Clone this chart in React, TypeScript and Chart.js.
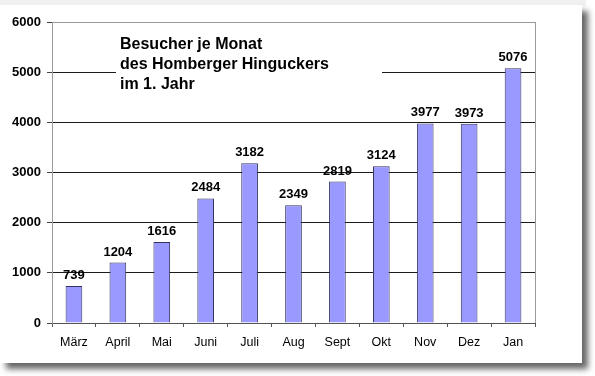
import React, { useEffect, useRef } from "react";
import { Chart, registerables } from "chart.js";

Chart.register(...registerables);

const months = ["März", "April", "Mai", "Juni", "Juli", "Aug", "Sept", "Okt", "Nov", "Dez", "Jan"];
const visitors = [739, 1204, 1616, 2484, 3182, 2349, 2819, 3124, 3977, 3973, 5076];
const titleLines = ["Besucher je Monat", "des Homberger Hinguckers", "im 1. Jahr"];
const yMax = 6000;
const yStep = 1000;

const FONT = "'Liberation Sans', Arial, sans-serif";

const overlayPlugin = {
  id: "overlay",
  beforeDatasetsDraw(chart: any) {
    const ctx = chart.ctx;
    const a = chart.chartArea;
    ctx.save();
    // title box
    ctx.fillStyle = "#ffffff";
    ctx.fillRect(116, 32, 266, 64);
    ctx.fillStyle = "#000000";
    ctx.font = `bold 16px ${FONT}`;
    ctx.textAlign = "left";
    ctx.textBaseline = "alphabetic";
    titleLines.forEach((t, i) => ctx.fillText(t, 120, 49 + i * 20));
    // right border
    ctx.strokeStyle = "#9a9a9a";
    ctx.lineWidth = 1;
    ctx.beginPath();
    ctx.moveTo(Math.round(a.right) + 0.5, a.top);
    ctx.lineTo(Math.round(a.right) + 0.5, a.bottom);
    ctx.stroke();
    ctx.restore();
  },
  afterDatasetsDraw(chart: any) {
    const ctx = chart.ctx;
    const meta = chart.getDatasetMeta(0);
    ctx.save();
    ctx.fillStyle = "#000000";
    ctx.font = `bold 13px ${FONT}`;
    ctx.textAlign = "center";
    ctx.textBaseline = "alphabetic";
    meta.data.forEach((bar: any, i: number) => {
      ctx.fillText(String(visitors[i]), bar.x, bar.y - 7);
    });
    ctx.restore();
  },
};

export default function App() {
  const ref = useRef<HTMLCanvasElement | null>(null);
  useEffect(() => {
    if (!ref.current) return;
    const chart = new Chart(ref.current, {
      type: "bar",
      data: {
        labels: months,
        datasets: [
          {
            data: visitors,
            backgroundColor: "#9999ff",
            borderColor: "#33335e",
            borderWidth: 1,
            barPercentage: 0.38,
            categoryPercentage: 1,
          },
        ],
      },
      options: {
        responsive: false,
        animation: false,
        devicePixelRatio: 1,
        layout: { padding: { left: 0, right: 60, top: 22, bottom: 0 } },
        plugins: { legend: { display: false }, tooltip: { enabled: false }, title: { display: false } },
        scales: {
          x: {
            grid: {
              display: true,
              drawOnChartArea: false,
              drawTicks: true,
              tickLength: 4,
              offset: true,
              color: "#555555",
            },
            border: { display: true, color: "#555555", width: 1 },
            ticks: {
              color: "#000000",
              font: { family: FONT, size: 12.5 },
              padding: 8,
              maxRotation: 0,
              autoSkip: false,
            },
            afterFit: (s: any) => {
              s.height = 53;
            },
          },
          y: {
            min: 0,
            max: yMax,
            ticks: {
              stepSize: yStep,
              color: "#000000",
              font: { family: FONT, size: 13, weight: "bold" },
              padding: 6,
              callback: (v: any) => String(v),
            },
            grid: {
              color: (c: any) => (c.tick && c.tick.value === yMax ? "#9a9a9a" : "#1a1a1a"),
              tickColor: "#444444",
              tickLength: 5,
              drawTicks: true,
            },
            border: { display: true, color: "#9a9a9a", width: 1 },
            afterFit: (s: any) => {
              s.width = 52;
            },
          },
        },
      },
      plugins: [overlayPlugin],
    });
    return () => chart.destroy();
  }, []);

  return (
    <div
      style={{
        position: "fixed",
        left: 0,
        top: 0,
        width: 595,
        height: 376,
        background: "#ffffff",
        overflow: "hidden",
      }}
    >
      <div style={{ position: "absolute", left: 0, top: 0, width: 586, height: 6, background: "#f1f1f1" }} />
      <div
        style={{
          position: "absolute",
          left: 0,
          top: 5,
          width: 582,
          height: 358,
          background: "#ffffff",
          boxShadow: "6px 6px 6px rgba(0,0,0,0.6)",
        }}
      />
      <canvas ref={ref} width={595} height={376} style={{ position: "absolute", left: 0, top: 0 }} />
    </div>
  );
}
